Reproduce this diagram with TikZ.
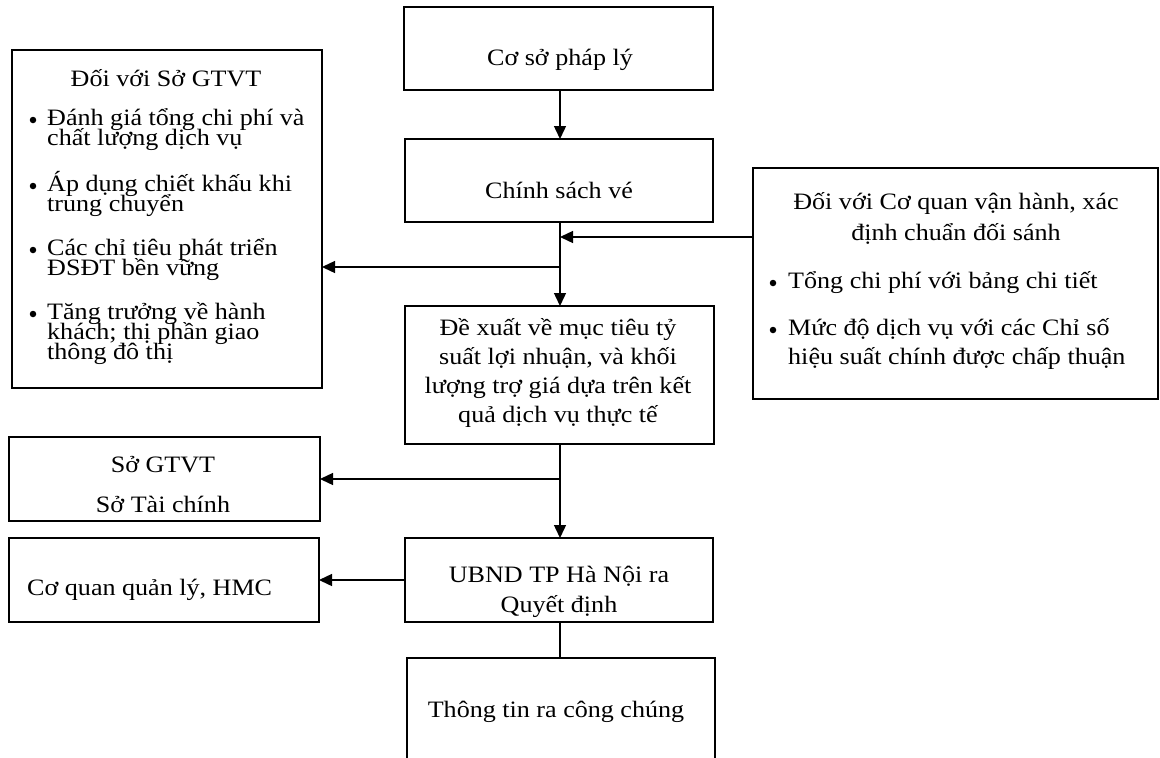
\documentclass[tikz,border=0pt]{standalone}
\usepackage{fontspec}
\setmainfont{Liberation Serif}[FakeStretch=1.11]
\usetikzlibrary{arrows.meta}
\begin{document}
\begin{tikzpicture}[x=1pt,y=-1pt,
  box/.style={draw, line width=1.4pt, inner sep=0pt, outer sep=0pt},
  txt/.style={inner sep=0pt, anchor=base, font=\fontsize{23.5}{28}\selectfont},
  txtl/.style={txt, anchor=base west},
  dot/.style={circle, fill, inner sep=0pt, minimum size=6.5pt},
  link/.style={line width=1.4pt, -{Triangle[length=13pt,width=12pt]}},
  plain/.style={line width=1.4pt}]
\useasboundingbox (0,0) rectangle (1160,758);

% boxes
\node[box, minimum width=309pt, minimum height=83pt]  (legal) at (558.5,48.5) {};
\node[box, minimum width=308pt, minimum height=83pt]  (fare)  at (559,180.5) {};
\node[box, minimum width=310pt, minimum height=338pt] (dot1)  at (167,219) {};
\node[box, minimum width=405pt, minimum height=231pt] (oper)  at (955.5,283.5) {};
\node[box, minimum width=309pt, minimum height=138pt] (prop)  at (559.5,375) {};
\node[box, minimum width=311pt, minimum height=84pt]  (depts) at (164.5,479) {};
\node[box, minimum width=310pt, minimum height=84pt]  (mgmt)  at (164,580) {};
\node[box, minimum width=308pt, minimum height=84pt]  (ubnd)  at (559,580) {};
\node[box, minimum width=308pt, minimum height=112pt] (pub)   at (561,714) {};

% texts
\node[txt] (tLegal) at (560,65) {Cơ sở pháp lý};
\node[txt] (tFare) at (559,198) {Chính sách vé};

\node[txt] (tDotT) at (166,86) {Đối với Sở GTVT};
\node[dot] (b1) at (33,120) {};
\node[txtl] (l1a) at (47,125) {Đánh giá tổng chi phí và};
\node[txtl] (l1b) at (47,145) {chất lượng dịch vụ};
\node[dot] (b2) at (33,186) {};
\node[txtl] (l2a) at (47,191) {Áp dụng chiết khấu khi};
\node[txtl] (l2b) at (47,211) {trung chuyển};
\node[dot] (b3) at (33,250) {};
\node[txtl] (l3a) at (47,255) {Các chỉ tiêu phát triển};
\node[txtl] (l3b) at (47,275) {ĐSĐT bền vững};
\node[dot] (b4) at (33,314) {};
\node[txtl] (l4a) at (47,319) {Tăng trưởng về hành};
\node[txtl] (l4b) at (47,339) {khách; thị phần giao};
\node[txtl] (l4c) at (47,359) {thông đô thị};

\node[txt] (tOpA) at (956,209) {Đối với Cơ quan vận hành, xác};
\node[txt] (tOpB) at (956,240) {định chuẩn đối sánh};
\node[dot] (r1) at (773,283) {};
\node[txtl] (r1a) at (788,288) {Tổng chi phí với bảng chi tiết};
\node[dot] (r2) at (773,330) {};
\node[txtl] (r2a) at (788,335) {Mức độ dịch vụ với các Chỉ số};
\node[txtl] (r2b) at (788,364) {hiệu suất chính được chấp thuận};

\node[txt] (p1) at (558,335) {Đề xuất về mục tiêu tỷ};
\node[txt] (p2) at (558,364) {suất lợi nhuận, và khối};
\node[txt] (p3) at (558,393) {lượng trợ giá dựa trên kết};
\node[txt] (p4) at (558,422) {quả dịch vụ thực tế};

\node[txt] (d1) at (163,472) {Sở GTVT};
\node[txt] (d2) at (163,512) {Sở Tài chính};

\node[txtl] (m1) at (27,595) {Cơ quan quản lý, HMC};

\node[txt] (u1) at (559,582) {UBND TP Hà Nội ra};
\node[txt] (u2) at (559,612) {Quyết định};

\node[txt] (pb) at (556,717) {Thông tin ra công chúng};

% connectors
\coordinate (spine) at (560,0);
\coordinate (jR) at (560,237);
\coordinate (jL) at (560,267);
\coordinate (jS) at (560,479);

\draw[link] (legal.south -| spine) -- (fare.north -| spine);
\draw[link] (fare.south -| spine) -- (prop.north -| spine);
\draw[link] (jR -| oper.west) -- (jR);
\draw[link] (jL) -- (jL -| dot1.east);
\draw[link] (prop.south -| spine) -- (ubnd.north -| spine);
\draw[link] (jS) -- (jS -| depts.east);
\draw[link] (ubnd.west) -- (mgmt.east);
\draw[plain] (ubnd.south -| spine) -- (pub.north -| spine);
\end{tikzpicture}
\end{document}
